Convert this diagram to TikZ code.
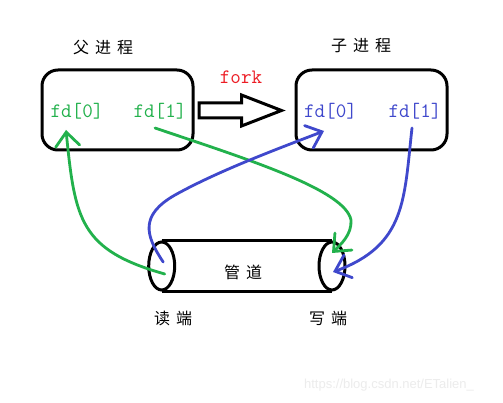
\documentclass[tikz,border=0pt]{standalone}
\usepackage{fontspec}
\newfontfamily\cjk{Noto Sans CJK SC}
\newfontfamily\monof{Latin Modern Mono}
\newfontfamily\wmfont{Liberation Sans}
\usetikzlibrary{arrows.meta,shapes.geometric,calc}
\definecolor{pgreen}{RGB}{34,177,76}
\definecolor{pblue}{RGB}{63,72,204}
\definecolor{pred}{RGB}{237,28,36}
\definecolor{wmgray}{RGB}{236,236,236}
\tikzset{
  procbox/.style={draw=black,line width=3pt,rounded corners=16pt,minimum width=151pt,minimum height=80pt,inner sep=0pt},
  title/.style={font=\cjk\fontsize{16}{16}\selectfont,inner sep=0pt},
  fdtext/.style={font=\monof\fontsize{20.5}{20.5}\selectfont,inner sep=0pt},
  pipeend/.style={draw=black,line width=3pt,ellipse,minimum width=26pt,minimum height=48pt,inner sep=0pt},
  pipeline/.style={draw=black,line width=3pt},
  flow/.style={line width=2.8pt,line cap=round,-{Straight Barb[length=14pt,width=24pt,line cap=round]}},
  hollow/.style={draw=black,line width=3pt,fill=white,line join=miter}
}
\begin{document}
\begin{tikzpicture}[x=1pt,y=-1pt]
\useasboundingbox (0,0) rectangle (503,403);
\fill[white] (0,0) rectangle (503,403);
% process boxes
\node[procbox] (pbox) at (117.5,110) {};
\node[procbox] (cbox) at (371.5,110) {};
\node[title] (ptitle) at (103,48) {父\hspace{6pt}进\hspace{6pt}程};
\node[title] (ctitle) at (361,46) {子\hspace{6pt}进\hspace{6pt}程};
% fd texts
\node[fdtext,text=pgreen] (pfd0) at (77,111) {fd[0]};
\node[fdtext,text=pgreen] (pfd1) at (160,111) {fd[1]};
\node[fdtext,text=pblue] (cfd0) at (330.5,111) {fd[0]};
\node[fdtext,text=pblue] (cfd1) at (415,111) {fd[1]};
% fork arrow
\node[fdtext,text=pred] (fork) at (241,77) {fork};
\draw[hollow] (199,103) -- (241.5,103) -- (241.5,95) -- (281.5,110.5) -- (241.5,126) -- (241.5,118) -- (199,118) -- cycle;
% pipe
\node[pipeend] (rend) at (161.7,266) {};
\node[pipeend] (wend) at (332,266) {};
\draw[pipeline] (rend.north) -- (wend.north);
\draw[pipeline] (rend.south) -- (wend.south);
\node[title] (pipe) at (243,272) {管\hspace{6pt}道};
\node[title] (rlabel) at (173,318) {读\hspace{6pt}端};
\node[title] (wlabel) at (328,318) {写\hspace{6pt}端};
% flows
\draw[flow,draw=pgreen] ($(rend.center)+(3,8)$) .. controls (80,250) and (75,220) .. ($(pfd0.center)+(-11,19)$);
\draw[flow,draw=pgreen] ($(pfd1.center)+(-5,17)$) .. controls (250,160) and (345,190) .. (351,220) .. controls (352,235) and (340,245) .. ($(wend.center)+(0,-13)$);
\draw[flow,draw=pblue] ($(rend.center)+(1.5,-4)$) .. controls (145,235) and (140,215) .. (175,195) .. controls (220,170) and (280,148) .. ($(cfd0.center)+(-6.5,20)$);
\draw[flow,draw=pblue] ($(cfd1.center)+(-3,17)$) .. controls (404,200) and (406,245) .. ($(wend.center)+(1,6)$);
% watermark
\node[font=\wmfont\fontsize{13}{13}\selectfont,text=wmgray,inner sep=0pt] (wm) at (389,385) {https://blog.csdn.net/ETalien\_};
\end{tikzpicture}
\end{document}
